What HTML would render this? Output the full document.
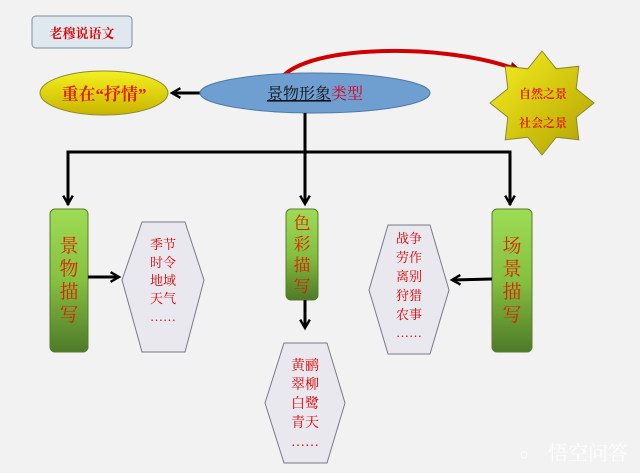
<!DOCTYPE html>
<html><head><meta charset="utf-8"><style>
html,body{margin:0;padding:0;background:#f2f2f2;}
svg{display:block;}
text{font-family:"Liberation Serif","Noto Serif CJK SC","Noto Sans CJK SC",serif;}
</style></head><body>
<svg width="640" height="473" viewBox="0 0 640 473" xmlns="http://www.w3.org/2000/svg">
<defs>
<linearGradient id="yel" x1="0" y1="0" x2="0" y2="1"><stop offset="0" stop-color="#f4f020"/><stop offset="1" stop-color="#c8b400"/></linearGradient>
<linearGradient id="star" x1="0" y1="0" x2="1" y2="1"><stop offset="0" stop-color="#f8f020"/><stop offset="1" stop-color="#b0a000"/></linearGradient>
<linearGradient id="grn" x1="0" y1="0" x2="0" y2="1"><stop offset="0" stop-color="#9edc55"/><stop offset="0.5" stop-color="#86c040"/><stop offset="1" stop-color="#4e7a28"/></linearGradient>
<marker id="ah" viewBox="0 0 10 10" refX="8" refY="5" markerWidth="4" markerHeight="4" orient="auto"><path d="M1,1 L8,5 L1,9" fill="none" stroke="#000" stroke-width="2"/></marker>
</defs>
<rect x="0" y="0" width="640" height="473" fill="#f2f2f2"/>
<rect x="32" y="16" width="100" height="32" rx="4" fill="#dfe8ee" stroke="#7f8f9f"/>
<text x="82" y="38" font-size="13" fill="#e00000" text-anchor="middle" font-weight="bold">老穆说语文</text>

<path d="M277,88 C282,45 440,40 518,70" fill="none" stroke="#d00000" stroke-width="4"/>
<path d="M512,62 L530,78 L508,76 Z" fill="#a00000"/>

<ellipse cx="104" cy="93" rx="64" ry="22" fill="url(#yel)" stroke="#8a8a30"/>
<text x="104" y="100" font-size="17" fill="#e02000" text-anchor="middle" font-weight="bold">重在“抒情”</text>
<line x1="200" y1="93" x2="172" y2="93" stroke="#000" stroke-width="3" marker-end="url(#ah)"/>

<ellipse cx="315" cy="93" rx="115" ry="20" fill="#6f9ed0" stroke="#4f78a8"/>
<text x="315" y="99" font-size="16" text-anchor="middle"><tspan fill="#111" text-decoration="underline">景物形象</tspan><tspan fill="#e00020">类型</tspan></text>

<polygon points="542,51 556.2,68.8 578.8,66.2 576.2,88.8 594,103 576.2,117.2 578.8,139.8 556.2,137.2 542,155 527.8,137.2 505.2,139.8 507.8,117.2 490,103 507.8,88.8 505.2,66.2 527.8,68.8" fill="url(#star)" stroke="#8a8a30"/>
<text x="543" y="98" font-size="12" fill="#e02000" text-anchor="middle" font-weight="bold">自然之景</text>
<text x="543" y="127" font-size="12" fill="#e02000" text-anchor="middle" font-weight="bold">社会之景</text>

<line x1="305" y1="113" x2="305" y2="152" stroke="#000" stroke-width="3"/>
<polyline points="68,205 68,152 510,152 510,205" fill="none" stroke="#000" stroke-width="3"/>
<line x1="68" y1="180" x2="68" y2="204" stroke="#000" stroke-width="3" marker-end="url(#ah)"/>
<line x1="305" y1="152" x2="305" y2="204" stroke="#000" stroke-width="3" marker-end="url(#ah)"/>
<line x1="510" y1="180" x2="510" y2="204" stroke="#000" stroke-width="3" marker-end="url(#ah)"/>

<rect x="50" y="209" width="38" height="143" rx="5" fill="url(#grn)" stroke="#5a7a30"/>
<g font-size="19" fill="#e02000" text-anchor="middle"><text x="69" y="252">景</text><text x="69" y="275">物</text><text x="69" y="298">描</text><text x="69" y="321">写</text></g>
<rect x="286" y="209" width="32" height="91" rx="5" fill="url(#grn)" stroke="#5a7a30"/>
<g font-size="17" fill="#e02000" text-anchor="middle"><text x="302" y="229">色</text><text x="302" y="250">彩</text><text x="302" y="271">描</text><text x="302" y="292">写</text></g>
<rect x="492" y="209" width="40" height="143" rx="5" fill="url(#grn)" stroke="#5a7a30"/>
<g font-size="19" fill="#e02000" text-anchor="middle"><text x="512" y="252">场</text><text x="512" y="275">景</text><text x="512" y="298">描</text><text x="512" y="321">写</text></g>

<line x1="88" y1="277" x2="119" y2="277" stroke="#000" stroke-width="3" marker-end="url(#ah)"/>
<line x1="305" y1="300" x2="305" y2="328" stroke="#000" stroke-width="3" marker-end="url(#ah)"/>
<line x1="492" y1="279" x2="452" y2="280" stroke="#000" stroke-width="3" marker-end="url(#ah)"/>

<polygon points="142,222 185,222 204,280 185,352 142,352 122,280" fill="#e8e8ee" stroke="#7a7a8a"/>
<g font-size="13" fill="#e00000" text-anchor="middle"><text x="163" y="249">季节</text><text x="163" y="267">时令</text><text x="163" y="285">地域</text><text x="163" y="303">天气</text><text x="163" y="321">……</text></g>

<polygon points="388,225 430,225 449,290 430,354 388,354 369,290" fill="#e8e8ee" stroke="#7a7a8a"/>
<g font-size="13" fill="#e00000" text-anchor="middle"><text x="409" y="243">战争</text><text x="409" y="262">劳作</text><text x="409" y="281">离别</text><text x="409" y="300">狩猎</text><text x="409" y="319">农事</text><text x="409" y="337">……</text></g>

<polygon points="284,343 327,343 345,403 327,463 284,463 265,403" fill="#e8e8ee" stroke="#7a7a8a"/>
<g font-size="14" fill="#e00000" text-anchor="middle"><text x="305" y="370">黄鹂</text><text x="305" y="389">翠柳</text><text x="305" y="408">白鹭</text><text x="305" y="427">青天</text><text x="305" y="446">……</text></g>

<text x="548" y="460" font-size="20" fill="#ffffff" opacity="0.85" font-family="Liberation Sans, Noto Sans CJK SC, sans-serif">悟空问答</text>
<text x="520" y="458" font-size="14" fill="#ffffff" opacity="0.85" font-family="Liberation Sans, sans-serif">ѻ</text>
</svg>
</body></html>
